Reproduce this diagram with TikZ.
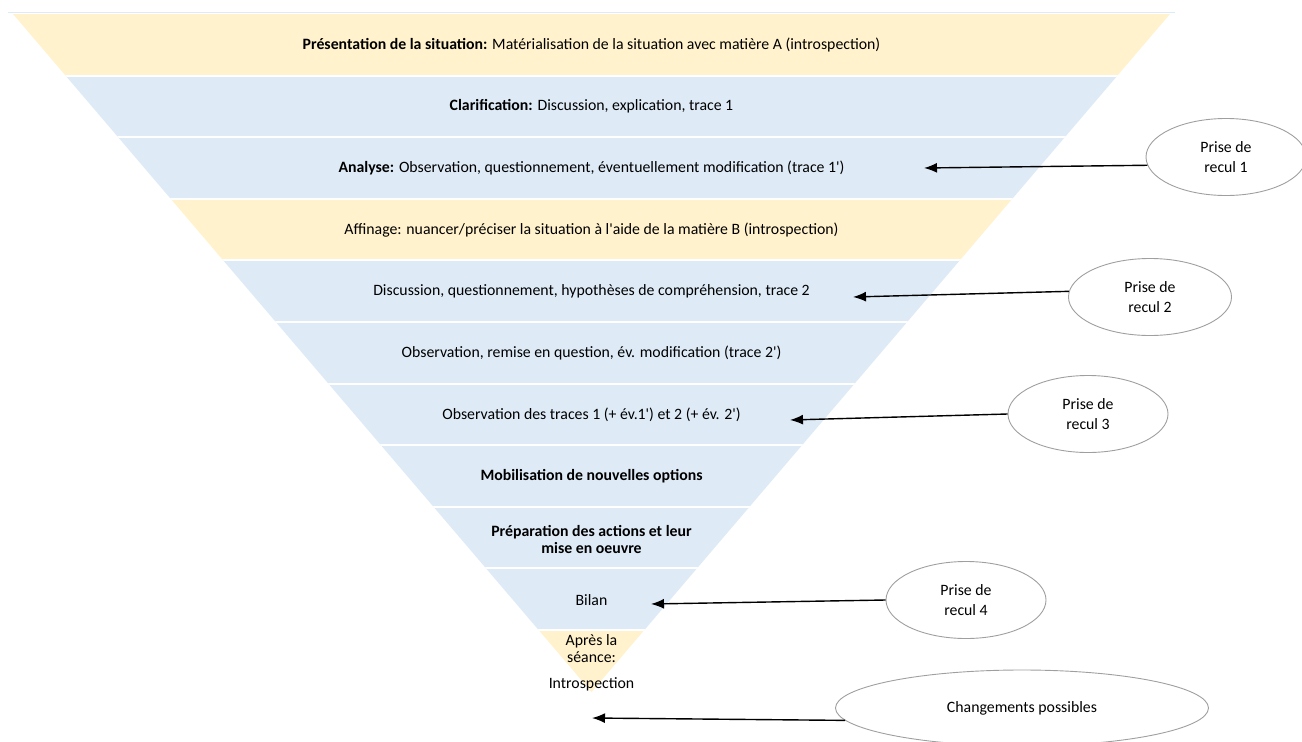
\documentclass[tikz,border=0pt]{standalone}
\usepackage{fontspec}
\setmainfont{Carlito}
\usetikzlibrary{shapes.geometric, arrows.meta}
\definecolor{bandyellow}{HTML}{FFF2CC}
\definecolor{bandblue}{HTML}{DEEBF7}
\tikzset{
x=1pt, y=-1pt, % one unit is one pixel of the layout, y going down
>={Latex[length=13pt, width=10pt]}, % solid arrow heads
bandtext/.style={align=center, font=\fontsize{15.8}{17}\selectfont}, % text inside a band
recul/.style={ellipse, draw=gray!75, line width=0.9pt, align=center, minimum width=160pt, minimum height=77pt, font=\fontsize{15.8}{20}\selectfont}, % the ellipses on the right
pointer/.style={->, line width=1.4pt}, % arrows from the ellipses
}
\newcommand{\pr}{\textquotesingle}

\begin{document}
\begin{tikzpicture}
    \useasboundingbox (0,0) rectangle (1302,742);
    \draw[bandblue, line width=1pt] (8,12) -- (1175,12);
    \begin{scope}
        \clip (13,14) -- (1170,14) -- (591.5,692) -- cycle;
        \foreach \i/\c in {0/bandyellow, 1/bandblue, 2/bandblue, 3/bandyellow, 4/bandblue, 5/bandblue,
                           6/bandblue, 7/bandblue, 8/bandblue, 9/bandblue, 10/bandyellow}
            \fill[\c] (0,{14+61.6*\i}) rectangle (1302,{14+61.6*(\i+1)});
        \foreach \i in {1,...,10}
            \draw[white, line width=2pt] (0,{14+61.6*\i}) -- (1302,{14+61.6*\i});
    \end{scope}

    \node[bandtext] (b1) at (591.5,44.8) {\textbf{Présentation de la situation:} Matérialisation de la situation avec matière A (introspection)};
    \node[bandtext] (b2) at (591.5,106.4) {\textbf{Clarification:} Discussion, explication, trace 1};
    \node[bandtext] (b3) at (591.5,168) {\textbf{Analyse:} Observation, questionnement, éventuellement modification (trace 1\pr)};
    \node[bandtext] (b4) at (591.5,229.6) {Affinage: nuancer/préciser la situation à l\pr aide de la matière B (introspection)};
    \node[bandtext] (b5) at (591.5,291.2) {Discussion, questionnement, hypothèses de compréhension, trace 2};
    \node[bandtext] (b6) at (591.5,352.8) {Observation, remise en question, év. modification (trace 2\pr)};
    \node[bandtext] (b7) at (591.5,414.4) {Observation des traces 1 (+ év.1\pr) et 2 (+ év. 2\pr)};
    \node[bandtext] (b8) at (591.5,476) {\textbf{Mobilisation de nouvelles options}};
    \node[bandtext] (b9) at (591.5,539) {\textbf{Préparation des actions et leur}\\\textbf{mise en oeuvre}};
    \node[bandtext] (b10) at (591.5,600) {Bilan};
    \node[bandtext] (b11) at (591.5,663) {Après la\\séance:\\[9pt]Introspection};

    \node[recul] (r1) at (1226,157) {Prise de\\recul 1};
    \node[recul, minimum width=163pt] (r2) at (1150,297) {Prise de\\recul 2};
    \node[recul] (r3) at (1088,414) {Prise de\\recul 3};
    \node[recul] (r4) at (966,600) {Prise de\\recul 4};
    \node[recul, minimum width=373pt, minimum height=76pt] (ch) at (1022,708) {Changements possibles};

    \coordinate (t1) at (924,168);
    \coordinate (t2) at (853,297);
    \coordinate (t3) at (790,420);
    \coordinate (t4) at (651,604);
    \coordinate (t5) at (592,718);

    \draw[pointer] (r1.186) -- (t1);
    \draw[pointer] (r2.176) -- (t2);
    \draw[pointer] (r3.west) -- (t3);
    \draw[pointer] (r4.west) -- (t4);
    \draw[pointer] (ch.184) -- (t5);
\end{tikzpicture}
\end{document}
